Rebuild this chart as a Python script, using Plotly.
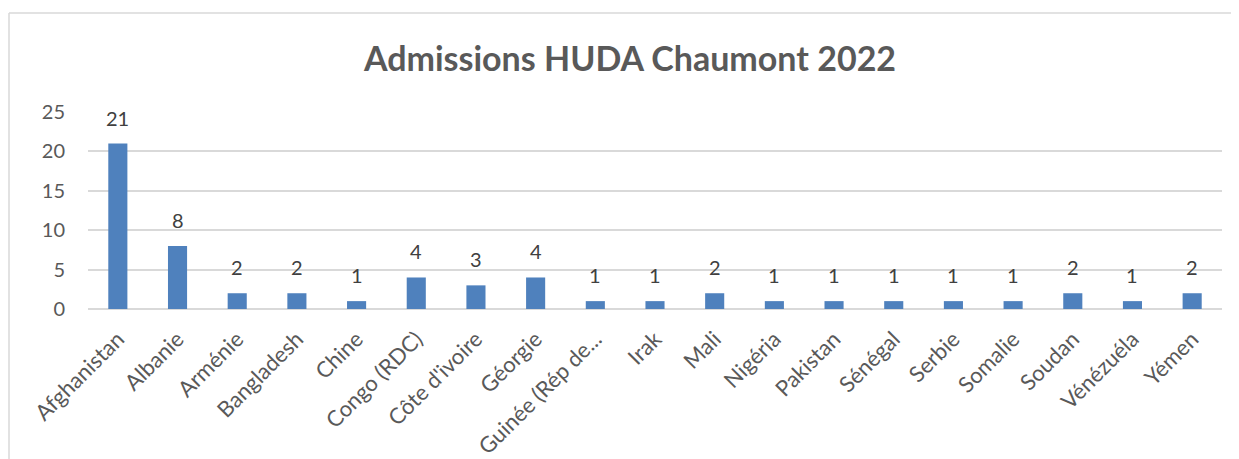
import plotly.graph_objects as go

categories = ["Afghanistan", "Albanie", "Arménie", "Bangladesh", "Chine", "Congo (RDC)",
              "Côte d'ivoire", "Géorgie", "Guinée (Rép de...", "Irak", "Mali", "Nigéria",
              "Pakistan", "Sénégal", "Serbie", "Somalie", "Soudan", "Vénézuéla", "Yémen"]
values = [21, 8, 2, 2, 1, 4, 3, 4, 1, 1, 2, 1, 1, 1, 1, 1, 2, 1, 2]
y_ticks = [0, 5, 10, 15, 20, 25]

FONT = "Lato"

# page body has an 8px margin; size the figure so the plot area lands where it should
OFF = 8
W, H = 1239 - OFF, 459 - OFF
L, T = 88 - OFF, 112 - OFF
R = W + OFF - 1222
B = H + OFF - 309
pw, ph = W - L - R, H - T - B

fig = go.Figure(go.Bar(
    x=categories, y=values,
    marker=dict(color="#4F81BD", line=dict(width=0)),
    width=0.32,
    hoverinfo="x+y",
))

annotations = [
    dict(x=c, y=v, xref="x", yref="y", text=str(v), showarrow=False,
         yanchor="bottom", yshift=12, font=dict(family=FONT, size=20, color="#404040"))
    for c, v in zip(categories, values)
]

bx = -(L + OFF - 9) / pw
by = 1 + (T + OFF - 13) / ph

fig.update_layout(
    width=W, height=H,
    margin=dict(l=L, r=R, t=T, b=B, autoexpand=False),
    paper_bgcolor="white", plot_bgcolor="white",
    showlegend=False,
    title=dict(text="<b>Admissions HUDA Chaumont 2022</b>",
               x=(630 - OFF) / W, xanchor="center", y=0.887, yanchor="middle",
               font=dict(family=FONT, size=34, color="#595959")),
    xaxis=dict(tickangle=-45, tickfont=dict(family=FONT, size=22, color="#595959"),
               showgrid=False, showline=False, ticks="", automargin=False,
               ticklabelstandoff=12),
    yaxis=dict(range=[0, 25], tickvals=y_ticks, showgrid=True, gridcolor="#D9D9D9",
               gridwidth=1.5, zeroline=True, zerolinecolor="#D9D9D9", zerolinewidth=1.5,
               tickfont=dict(family=FONT, size=20, color="#595959"), ticks="", ticklen=0,
               ticklabelstandoff=22, automargin=False),
    annotations=annotations,
    shapes=[
        dict(type="line", xref="paper", yref="paper",
             x0=bx, x1=1.2, y0=by, y1=by,
             line=dict(color="#D9D9D9", width=1.5)),
        dict(type="line", xref="paper", yref="paper",
             x0=bx, x1=bx, y0=by, y1=-2,
             line=dict(color="#D9D9D9", width=1.5)),
    ],
)

fig.write_html("out.html")
